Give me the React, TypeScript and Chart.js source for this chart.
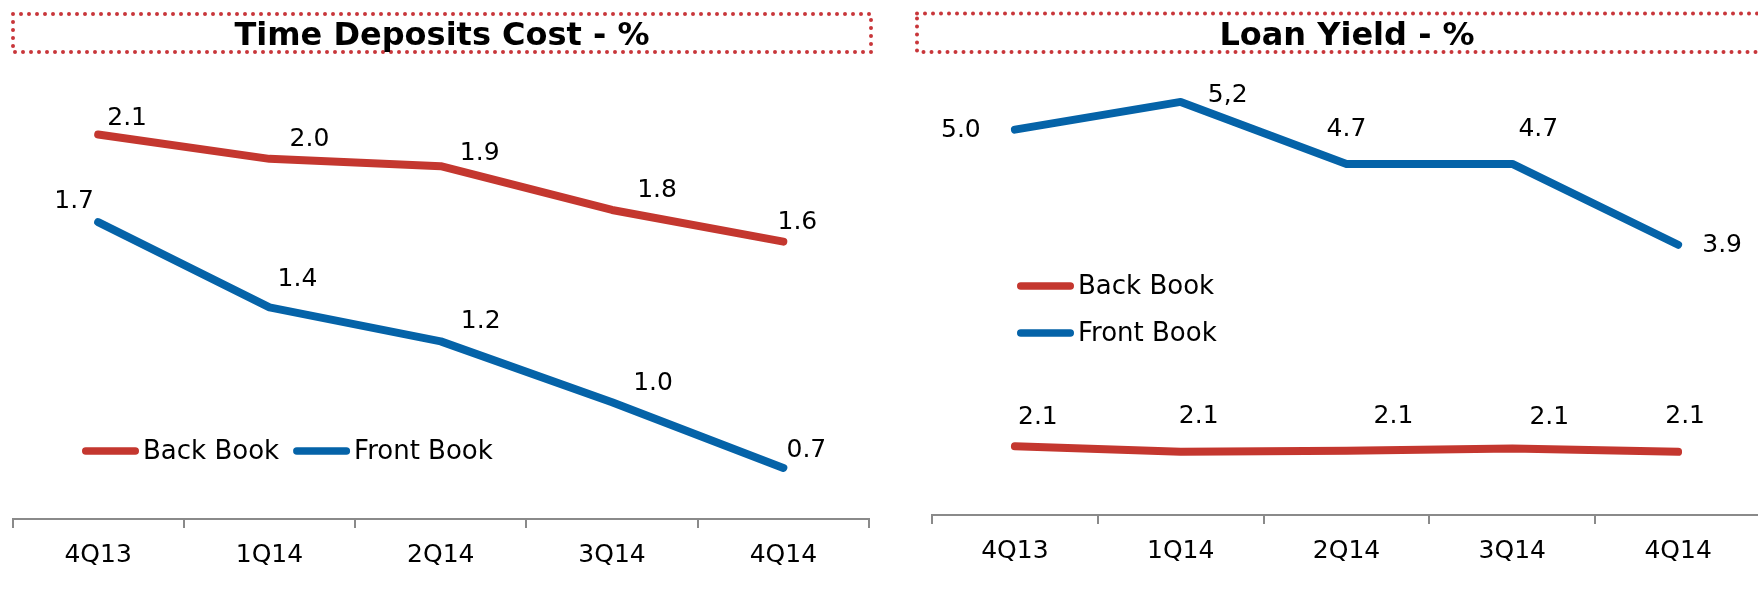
import React, { useEffect, useRef } from "react";
import { Chart, registerables } from "chart.js";

Chart.register(...registerables);

// ---------- data ----------
const quarters = ["4Q13", "1Q14", "2Q14", "3Q14", "4Q14"];
const seriesNames = ["Back Book", "Front Book"];

const depositBackBook = [2.08, 1.98, 1.95, 1.77, 1.64];
const depositFrontBook = [1.72, 1.37, 1.23, 0.98, 0.71];
const depositBackLabels = ["2.1", "2.0", "1.9", "1.8", "1.6"];
const depositFrontLabels = ["1.7", "1.4", "1.2", "1.0", "0.7"];

const loanBackBook = [2.12, 2.07, 2.08, 2.1, 2.07];
const loanFrontBook = [4.98, 5.23, 4.67, 4.67, 3.94];
const loanBackLabels = ["2.1", "2.1", "2.1", "2.1", "2.1"];
const loanFrontLabels = ["5.0", "5,2", "4.7", "4.7", "3.9"];

const depositTitle = "Time Deposits Cost - %";
const loanTitle = "Loan Yield - %";

// ---------- styles ----------
const RED = "#C4372F";
const BLUE = "#0563A8";
const AXIS_GREY = "#8a8a8a";
const FONT = "'DejaVu Sans', Verdana, sans-serif";

// label offsets relative to each point (dx, dy) in px
const depositBackOffsets = [[29, -16], [40, -19], [39, -13], [45, -19], [14, -19]];
const depositFrontOffsets = [[-24, -21], [28, -28], [40, -20], [41, -19], [23, -17]];
const loanBackOffsets = [[23, -29], [18, -35], [47, -34], [37, -31], [7, -35]];
const loanFrontOffsets = [[-54, 1], [47, -6], [0, -34], [26, -34], [44, 1]];

const valueLabelPlugin = {
  id: "valueLabels",
  afterDatasetsDraw(chart: any) {
    const ctx = chart.ctx;
    ctx.save();
    ctx.font = `25px ${FONT}`;
    ctx.fillStyle = "#000";
    ctx.textAlign = "center";
    ctx.textBaseline = "middle";
    chart.data.datasets.forEach((ds: any, di: number) => {
      const meta = chart.getDatasetMeta(di);
      meta.data.forEach((pt: any, i: number) => {
        const off = ds.labelOffsets[i];
        ctx.fillText(ds.valueLabels[i], pt.x + off[0], pt.y + off[1]);
      });
    });
    ctx.restore();
  },
};

const customLegendPlugin = {
  id: "customLegend",
  afterDraw(chart: any, _args: any, opts: any) {
    const ctx = chart.ctx;
    ctx.save();
    ctx.font = `26px ${FONT}`;
    ctx.textBaseline = "middle";
    ctx.textAlign = "left";
    ctx.lineCap = "round";
    let x = opts.x;
    let y = opts.y;
    const lw = 7.5;
    const len = 57;
    chart.data.datasets.forEach((ds: any) => {
      ctx.strokeStyle = ds.borderColor;
      ctx.lineWidth = lw;
      ctx.beginPath();
      ctx.moveTo(x + lw / 2, y);
      ctx.lineTo(x + len - lw / 2, y);
      ctx.stroke();
      const tx = x + len + 4;
      ctx.fillStyle = "#000";
      ctx.fillText(ds.label, tx, y + 1);
      if (opts.direction === "row") {
        x = tx + ctx.measureText(ds.label).width + 14;
      } else {
        y += opts.rowGap;
      }
    });
    ctx.restore();
  },
};

function makeConfig(
  back: number[],
  front: number[],
  backLabels: string[],
  frontLabels: string[],
  backOffsets: number[][],
  frontOffsets: number[][],
  yMin: number,
  yMax: number,
  padding: any,
  legend: any
): any {
  const lineStyle = {
    borderWidth: 8,
    borderCapStyle: "round",
    borderJoinStyle: "round",
    pointRadius: 0,
    pointHoverRadius: 0,
    tension: 0,
    fill: false,
    clip: false,
  };
  return {
    type: "line",
    data: {
      labels: quarters,
      datasets: [
        {
          label: seriesNames[0],
          data: back,
          borderColor: RED,
          backgroundColor: RED,
          valueLabels: backLabels,
          labelOffsets: backOffsets,
          ...lineStyle,
        },
        {
          label: seriesNames[1],
          data: front,
          borderColor: BLUE,
          backgroundColor: BLUE,
          valueLabels: frontLabels,
          labelOffsets: frontOffsets,
          ...lineStyle,
        },
      ],
    },
    options: {
      responsive: false,
      animation: false,
      events: [],
      layout: { padding },
      plugins: {
        legend: { display: false },
        title: { display: false },
        tooltip: { enabled: false },
        customLegend: legend,
      },
      scales: {
        x: {
          offset: true,
          grid: {
            offset: true,
            drawOnChartArea: false,
            drawTicks: true,
            tickLength: 9,
            tickWidth: 2,
            tickColor: AXIS_GREY,
            color: AXIS_GREY,
            lineWidth: 2,
          },
          border: { display: true, color: AXIS_GREY, width: 2 },
          ticks: {
            color: "#000",
            font: { family: FONT, size: 25 },
            padding: 12,
            maxRotation: 0,
            autoSkip: false,
          },
        },
        y: { display: false, min: yMin, max: yMax },
      },
    },
    plugins: [valueLabelPlugin, customLegendPlugin],
  };
}

function TitleBox(props: { left: number; width: number; top: number; height: number; text: string }) {
  return (
    <div
      style={{
        position: "absolute",
        left: props.left,
        top: props.top,
        width: props.width,
        height: props.height,
        lineHeight: props.height + "px",
        textAlign: "center",
        fontFamily: FONT,
        fontWeight: "bold",
        fontSize: 32,
        color: "#000",
        whiteSpace: "nowrap",
      }}
    >
      {props.text}
    </div>
  );
}

export default function App() {
  const leftRef = useRef<HTMLCanvasElement | null>(null);
  const rightRef = useRef<HTMLCanvasElement | null>(null);

  useEffect(() => {
    const c1 = new Chart(
      leftRef.current as HTMLCanvasElement,
      makeConfig(
        depositBackBook,
        depositFrontBook,
        depositBackLabels,
        depositFrontLabels,
        depositBackOffsets,
        depositFrontOffsets,
        0.5,
        2.3,
        { left: 12.5, right: 11, top: 81, bottom: 7 },
        { x: 82, y: 451, direction: "row" }
      )
    );
    const c2 = new Chart(
      rightRef.current as HTMLCanvasElement,
      makeConfig(
        loanBackBook,
        loanFrontBook,
        loanBackLabels,
        loanFrontLabels,
        loanBackOffsets,
        loanFrontOffsets,
        1.5,
        5.5,
        { left: 52, right: 19, top: 72, bottom: 11 },
        { x: 137, y: 286, direction: "column", rowGap: 47 }
      )
    );
    return () => {
      c1.destroy();
      c2.destroy();
    };
  }, []);

  return (
    <div
      style={{
        position: "fixed",
        left: 0,
        top: 0,
        width: 1758,
        height: 589,
        overflow: "hidden",
        background: "#fff",
      }}
    >
      <canvas
        ref={leftRef}
        width={880}
        height={589}
        style={{ position: "absolute", left: 0, top: 0, width: 880, height: 589 }}
      />
      <canvas
        ref={rightRef}
        width={900}
        height={589}
        style={{ position: "absolute", left: 880, top: 0, width: 900, height: 589 }}
      />
      <svg
        width={1800}
        height={589}
        style={{ position: "absolute", left: 0, top: 0, pointerEvents: "none" }}
      >
        <rect x={13} y={14} width={858} height={38} fill="none" stroke="#C8363A" strokeWidth={4} strokeDasharray="0 8" strokeLinecap="round" />
        <rect x={917} y={13.5} width={860} height={38.5} fill="none" stroke="#C8363A" strokeWidth={4} strokeDasharray="0 8" strokeLinecap="round" />
      </svg>
      <TitleBox left={13} width={858} top={15} height={38} text={depositTitle} />
      <TitleBox left={917} width={860} top={15} height={38} text={loanTitle} />
    </div>
  );
}
